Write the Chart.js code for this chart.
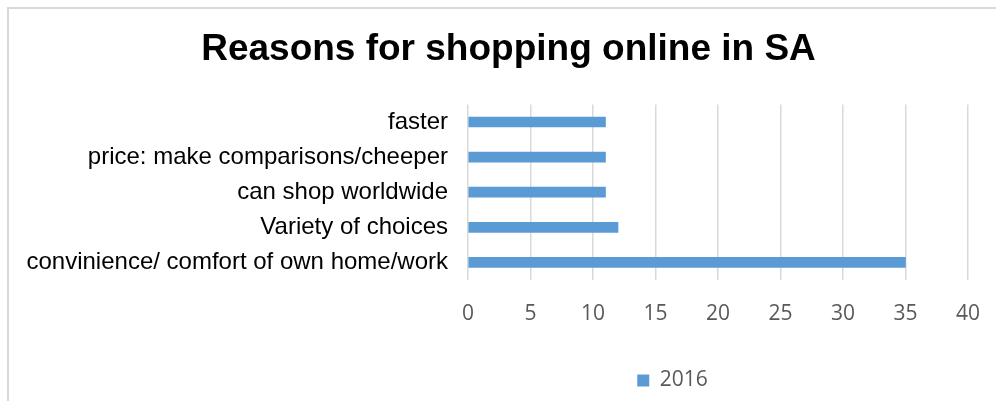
<!DOCTYPE html>
<html>
<head>
<meta charset="utf-8">
<script src="https://cdn.jsdelivr.net/npm/chart.js@4"></script>
<style>
  html, body { margin: 0; padding: 0; background: #fff; }
  #frame {
    position: absolute; left: 7px; top: 7px; width: 989px; height: 394px;
    border-left: 2px solid #d9d9d9; border-top: 2px solid #d9d9d9;
  }
  #wrap { position: absolute; left: 9px; top: 9px; width: 987px; height: 392px; }
</style>
</head>
<body>
<div id="frame"></div>
<div id="wrap"><canvas id="chart"></canvas></div>
<script>
const categories = [
  'faster',
  'price: make comparisons/cheeper',
  'can shop worldwide',
  'Variety of choices',
  'convinience/ comfort of own home/work'
];
const values2016 = [11, 11, 11, 12, 35];
const seriesLabel = '2016';

// Excel puts title and legend a bit off the canvas centre; nudge them over
const boxShift = {
  id: 'boxShift',
  afterLayout(chart) {
    const move = (box, dx) => {
      if (!box) return;
      box.left += dx;
      box.right += dx;
    };
    move(chart.titleBlock, 18);
    move(chart.legend, 182);
  }
};

const ctx = document.getElementById('chart').getContext('2d');
new Chart(ctx, {
  type: 'bar',
  data: {
    labels: categories,
    datasets: [{
      label: seriesLabel,
      data: values2016,
      backgroundColor: '#5b9bd5',
      borderWidth: 0,
      barThickness: 10
    }]
  },
  options: {
    indexAxis: 'y',
    responsive: true,
    maintainAspectRatio: false,
    animation: false,
    layout: { padding: { left: 4, right: 28, top: 0, bottom: 0 } },
    plugins: {
      title: {
        display: true,
        text: 'Reasons for shopping online in SA',
        color: '#000',
        font: { family: 'Liberation Sans', size: 37, weight: 'bold' },
        padding: { top: 19, bottom: 32 }
      },
      legend: {
        position: 'bottom',
        labels: {
          color: '#595959',
          font: { family: 'Open Sans', size: 21 },
          boxWidth: 12,
          boxHeight: 12,
          padding: 10
        }
      },
      tooltip: { enabled: false }
    },
    scales: {
      x: {
        min: 0,
        max: 40,
        ticks: {
          stepSize: 5,
          color: '#595959',
          font: { family: 'Open Sans', size: 21 },
          padding: 21
        },
        grid: { color: '#d9d9d9', lineWidth: 1.5, drawTicks: false },
        border: { display: false },
        afterFit: s => {
          s.height = 80;
          s.paddingLeft = 0;
          s.paddingRight = 0;
        }
      },
      y: {
        ticks: {
          color: '#000',
          font: { family: 'Liberation Sans', size: 24 },
          padding: 20
        },
        grid: { display: false, drawTicks: false },
        border: { display: false },
        afterFit: s => { s.width = 455; }
      }
    }
  },
  plugins: [boxShift]
});
</script>
</body>
</html>
